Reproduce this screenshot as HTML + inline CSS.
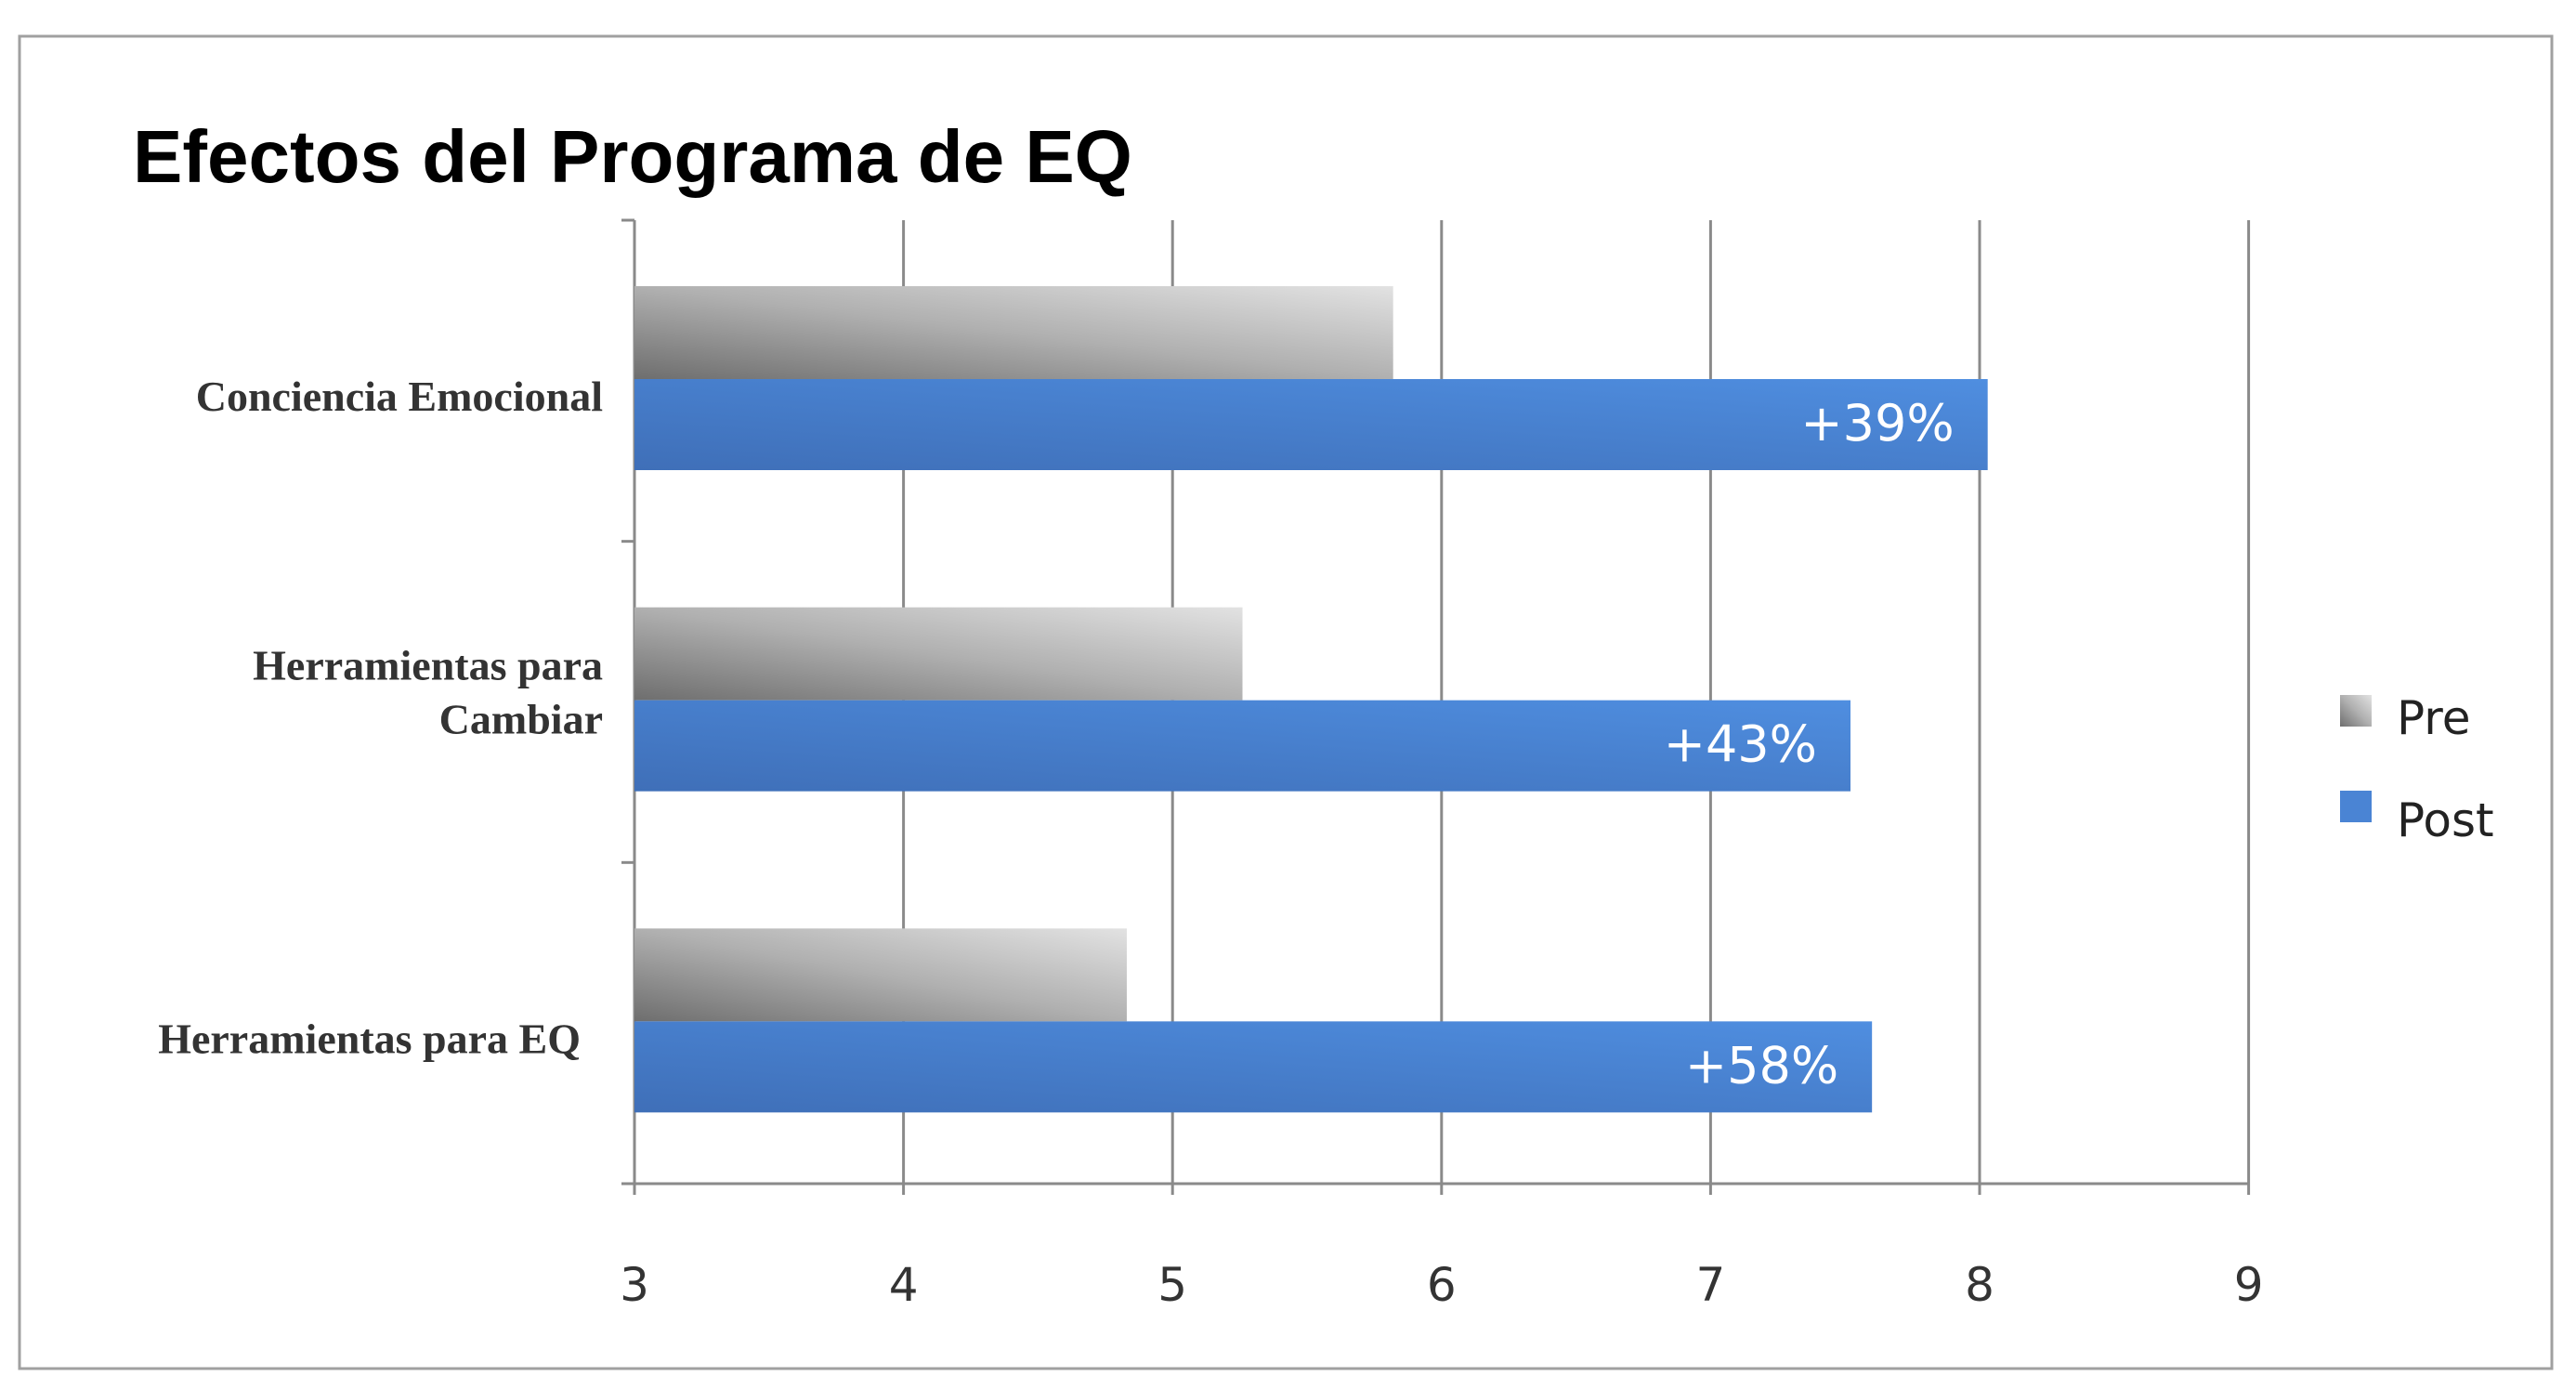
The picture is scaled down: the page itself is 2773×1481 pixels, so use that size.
<!DOCTYPE html>
<html><head><meta charset="utf-8"><style>
html,body{margin:0;padding:0;background:#fff;}
svg{display:block;}
</style></head><body>
<svg width="2773" height="1481" viewBox="0 0 2773 1481" xmlns="http://www.w3.org/2000/svg">
<defs>
<linearGradient id="preG" x1="0" y1="1" x2="1" y2="0">
<stop offset="0" stop-color="#6e6e6e"/><stop offset="0.5" stop-color="#b0b0b0"/><stop offset="1" stop-color="#e2e2e2"/>
</linearGradient>
<linearGradient id="postG" x1="0" y1="1" x2="1" y2="0">
<stop offset="0" stop-color="#3f6fb8"/><stop offset="1" stop-color="#4f8ee0"/>
</linearGradient>
</defs>
<rect x="21" y="39" width="2726" height="1434" fill="#fff" stroke="#a0a0a0" stroke-width="3"/>
<text x="143" y="196" font-family="Liberation Sans, sans-serif" font-weight="bold" font-size="80" fill="#000">Efectos del Programa de EQ</text>
<g id="grid"></g>
<g id="bars"></g>
<g id="labels"></g>
<g>
<rect x="2519" y="748" width="34" height="34" fill="url(#preG)"/>
<text x="2580" y="790" font-family="DejaVu Sans, sans-serif" font-size="50" fill="#222">Pre</text>
<rect x="2519" y="851" width="34" height="34" fill="#4a84d4"/>
<text x="2580" y="900" font-family="DejaVu Sans, sans-serif" font-size="50" fill="#222">Post</text>
</g>
</svg>
<script>
const categories = ["Conciencia Emocional", "Herramientas para|Cambiar", "Herramientas para EQ"];
const preValues = [5.82, 5.26, 4.83];
const postValues = [8.03, 7.52, 7.60];
const changeLabels = ["+39%", "+43%", "+58%"];
const xTicks = [3, 4, 5, 6, 7, 8, 9];

const NS = "http://www.w3.org/2000/svg";
const X0 = 683, UNIT = 289.6, XMIN = 3;
const PT = 237, PB = 1274;
const band = (PB - PT) / categories.length;
const xs = v => X0 + (v - XMIN) * UNIT;
function mk(tag, attrs, parent) {
  const e = document.createElementNS(NS, tag);
  for (const k in attrs) e.setAttribute(k, attrs[k]);
  parent.appendChild(e); return e;
}
const grid = document.getElementById('grid');
const bars = document.getElementById('bars');
const labels = document.getElementById('labels');
xTicks.forEach(t => {
  const x = xs(t);
  const l = mk('line', {x1: x, x2: x, y1: PT, y2: PB + 12, stroke: '#8a8a8a', 'stroke-width': 3}, grid);
  
  
  const tx = mk('text', {x: x, y: 1400, 'text-anchor': 'middle', 'font-family': 'DejaVu Sans, sans-serif', 'font-size': 50, fill: '#333'}, grid);
  tx.textContent = t;
  
  
});
const ax = mk('line', {x1: X0 - 14, x2: xs(9), y1: PB, y2: PB, stroke: '#8a8a8a', 'stroke-width': 3}, grid);


for (let i = 0; i <= categories.length; i++) {
  const y = PT + i * band;
  const tk = mk('line', {x1: X0 - 14, x2: X0, y1: y, y2: y, stroke: '#8a8a8a', 'stroke-width': 3}, grid);
  
  
}
categories.forEach((c, i) => {
  const b0 = PT + i * band;
  const preTop = b0 + 71, postTop = b0 + 171, h = 98;
  const pr = mk('rect', {x: X0, y: preTop, width: xs(preValues[i]) - X0, height: 100, fill: 'url(#preG)'}, bars);
  
  
  const po = mk('rect', {x: X0, y: postTop, width: xs(postValues[i]) - X0, height: h, fill: 'url(#postG)'}, bars);
  
  
  const vl = mk('text', {x: xs(postValues[i]) - 36, y: postTop + 66, 'text-anchor': 'end', 'font-family': 'DejaVu Sans, sans-serif', 'font-size': 54, fill: '#fff'}, bars);
  vl.textContent = changeLabels[i];
  
  
  const parts = c.split('|');
  const cy = postTop + 10;
  parts.forEach((p, j) => {
    const y = parts.length === 1 ? cy + 24 : cy - 32 + j * 58;
    const t = mk('text', {x: i === 2 ? 625 : 649, y: y, 'text-anchor': 'end', 'font-family': 'Liberation Serif, serif', 'font-weight': 'bold', 'font-size': 46, fill: '#333'}, labels);
    t.textContent = p;
    
    
  });
});
</script>
</body></html>
